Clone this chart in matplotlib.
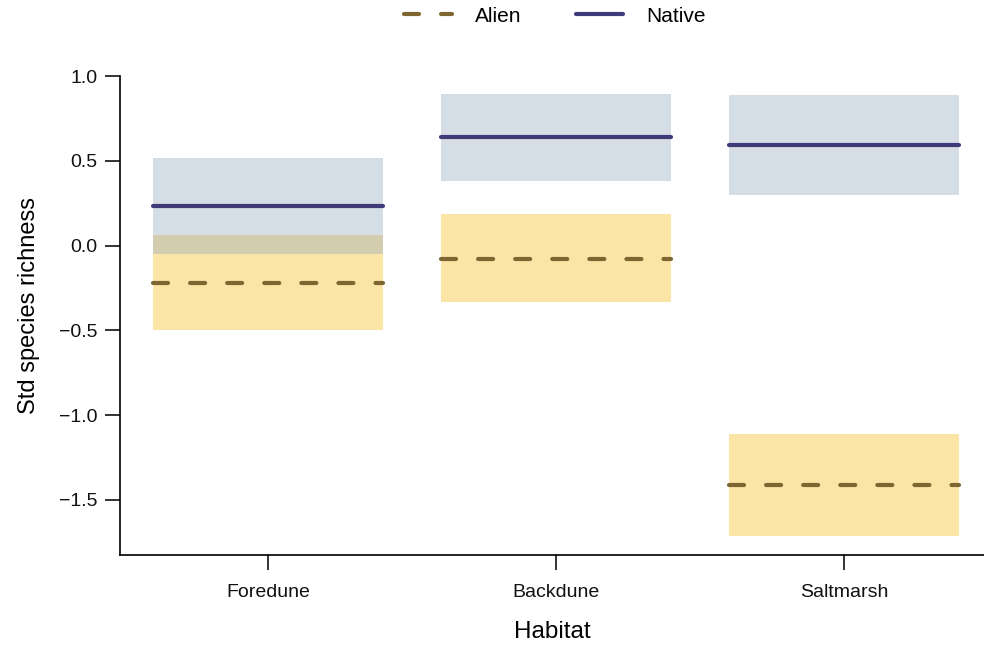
import matplotlib
matplotlib.use("Agg")
import matplotlib.pyplot as plt
from matplotlib.lines import Line2D

# standardised richness per habitat: mean and interval bounds
habitats = ["Foredune", "Backdune", "Saltmarsh"]
native_mean = [0.232, 0.642, 0.596]
native_low = [-0.050, 0.383, 0.301]
native_high = [0.519, 0.897, 0.891]
alien_mean = [-0.220, -0.077, -1.414]
alien_low = [-0.500, -0.330, -1.715]
alien_high = [0.065, 0.189, -1.115]

plt.rcParams["font.family"] = ["Liberation Sans", "DejaVu Sans"]

native_col = "#3f3a78"
alien_col = "#7f6530"
native_fill = "#98acbe"
alien_fill = "#f4bc22"

fig = plt.figure(figsize=(9.84, 6.46), dpi=100)
ax = fig.add_axes([0.122, 0.141, 0.878, 0.741])

half = 0.4
for i, h in enumerate(habitats):
    x = i + 1
    ax.fill_between([x - half, x + half], alien_low[i], alien_high[i],
                    color=alien_fill, alpha=0.4, lw=0)
    ax.fill_between([x - half, x + half], native_low[i], native_high[i],
                    color=native_fill, alpha=0.4, lw=0)
    ax.plot([x - half, x + half], [alien_mean[i]] * 2, color=alien_col, lw=3,
            dashes=(3.6, 5.3), dash_capstyle="round")
    ax.plot([x - half, x + half], [native_mean[i]] * 2, color=native_col,
            lw=3, solid_capstyle="round")

ax.set_xlim(0.486, 3.486)
ax.set_ylim(-1.826, 1.0)
ax.set_xticks([1, 2, 3])
ax.set_xticklabels(habitats)
ax.set_yticks([1.0, 0.5, 0.0, -0.5, -1.0, -1.5])
ax.set_yticklabels(["1.0", "0.5", "0.0", "\u22120.5", "\u22121.0", "\u22121.5"])
ax.tick_params(length=11, width=1.2, labelsize=14, pad=5, colors="#111111")
ax.tick_params(axis="x", pad=10)
for s in ["top", "right"]:
    ax.spines[s].set_visible(False)
for s in ["left", "bottom"]:
    ax.spines[s].set_linewidth(1.2)

ax.set_ylabel("Std species richness", fontsize=17)
ax.yaxis.set_label_coords(-0.093, 0.52)
ax.set_xlabel("Habitat", fontsize=17.5, labelpad=14)

handles = [
    Line2D([], [], color=alien_col, lw=3, dashes=(3.6, 5.3), dash_capstyle="round"),
    Line2D([], [], color=native_col, lw=3, solid_capstyle="round"),
]
fig.legend(handles, ["Alien", "Native"], loc="center", ncol=2, frameon=False,
           bbox_to_anchor=(0.564, 0.975), fontsize=15, handlelength=2.3,
           columnspacing=2.6, handletextpad=1.1)

fig.savefig("out.png", dpi=100)
